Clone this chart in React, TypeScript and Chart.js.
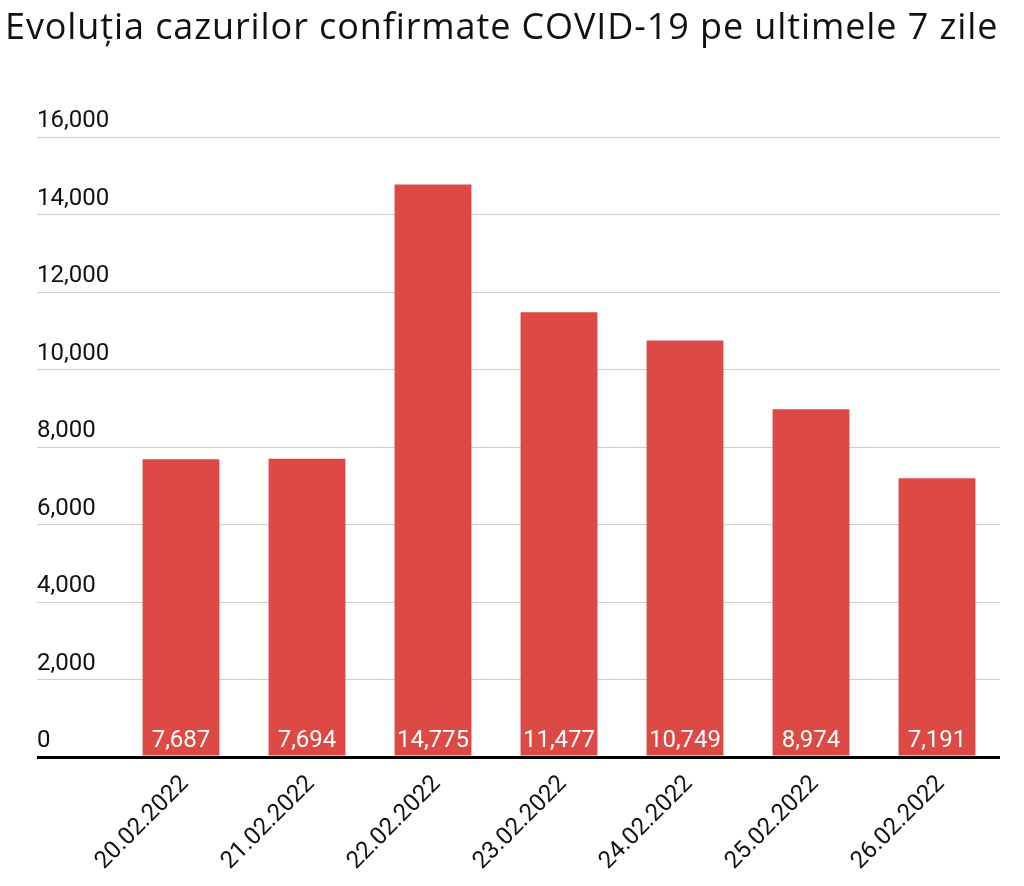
import { useEffect, useRef } from 'react';
import { Chart, registerables } from 'chart.js';

Chart.register(...registerables);

const titleText = 'Evoluția cazurilor confirmate COVID-19 pe ultimele 7 zile';
const dates = ['20.02.2022', '21.02.2022', '22.02.2022', '23.02.2022', '24.02.2022', '25.02.2022', '26.02.2022'];
const cases = [7687, 7694, 14775, 11477, 10749, 8974, 7191];
const yTicks = [0, 2000, 4000, 6000, 8000, 10000, 12000, 14000, 16000];

const barRed = '#dd4944';
const fmt = (v: number) => v.toLocaleString('en-US');

// white value labels sitting at the bottom of each bar
const barValues = {
  id: 'barValues',
  afterDatasetsDraw(chart: any) {
    const ctx = chart.ctx;
    const meta = chart.getDatasetMeta(0);
    ctx.save();
    ctx.font = '24px Roboto';
    ctx.fillStyle = '#ffffff';
    ctx.textAlign = 'center';
    ctx.textBaseline = 'alphabetic';
    meta.data.forEach((bar: any, i: number) => {
      ctx.fillText(fmt(cases[i]), bar.x, bar.base - 9);
    });
    ctx.restore();
  },
};

export default function App() {
  const canvasRef = useRef<HTMLCanvasElement>(null);

  useEffect(() => {
    if (!canvasRef.current) return;
    const chart = new Chart(canvasRef.current, {
      type: 'bar',
      data: {
        labels: dates,
        datasets: [
          {
            data: cases,
            backgroundColor: barRed,
            borderWidth: 0,
            barPercentage: 0.61,
            categoryPercentage: 1,
          },
        ],
      },
      plugins: [barValues],
      options: {
        animation: false,
        responsive: false,
        maintainAspectRatio: false,
        layout: { padding: { left: 37, right: 24, top: 137, bottom: 0 } },
        plugins: {
          legend: { display: false },
          tooltip: { enabled: false },
          title: { display: false },
        },
        scales: {
          x: {
            grid: { display: false, drawTicks: false },
            border: { display: false },
            ticks: {
              autoSkip: false,
              minRotation: 45,
              maxRotation: 45,
              padding: 13,
              labelOffset: 4,
              color: '#111',
              font: { family: 'Roboto', size: 24 },
            },
            afterFit: (scale: any) => {
              scale.height = 129;
            },
          },
          y: {
            min: 0,
            max: 16000,
            afterBuildTicks: (scale: any) => {
              scale.ticks = yTicks.map((v) => ({ value: v }));
            },
            border: { display: false },
            grid: {
              drawTicks: true,
              tickLength: 81,
              color: (c: any) => (c.tick && c.tick.value === 0 ? '#000' : '#cccccc'),
              tickColor: (c: any) => (c.tick && c.tick.value === 0 ? '#000' : '#cccccc'),
              lineWidth: (c: any) => (c.tick && c.tick.value === 0 ? 3 : 1),
              tickWidth: (c: any) => (c.tick && c.tick.value === 0 ? 3 : 1),
            },
            ticks: {
              crossAlign: 'far',
              labelOffset: -16,
              padding: 0,
              color: '#111',
              font: { family: 'Roboto', size: 24 },
              callback: (v: any) => fmt(Number(v)),
            },
            afterFit: (scale: any) => {
              scale.width = 81;
            },
          },
        },
      },
    });
    return () => chart.destroy();
  }, []);

  return (
    <div style={{ position: 'fixed', left: 0, top: 0, width: 1024, height: 886, background: '#fff' }}>
      <div
        style={{
          position: 'absolute',
          left: 5,
          top: 4,
          fontFamily: '"Open Sans", sans-serif',
          fontSize: 36,
          letterSpacing: 0.9,
          color: '#111',
          whiteSpace: 'nowrap',
          lineHeight: '44px',
        }}
      >
        {titleText}
      </div>
      <canvas ref={canvasRef} width={1024} height={886} style={{ display: 'block' }} />
    </div>
  );
}
